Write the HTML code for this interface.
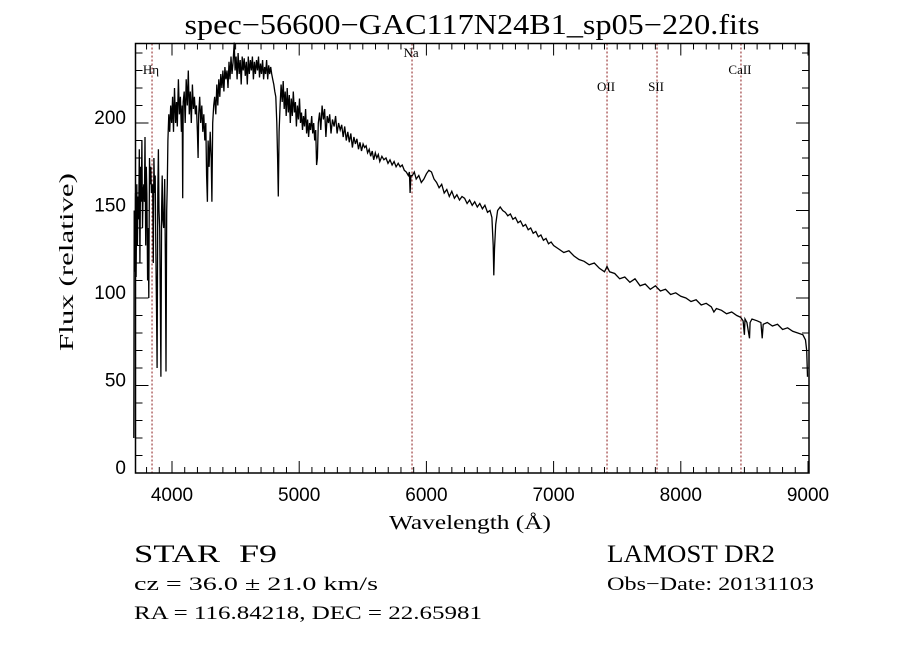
<!DOCTYPE html>
<html><head><meta charset="utf-8"><style>
html,body{margin:0;padding:0;background:#fff;}
svg{display:block;}
text{fill:#000;}
.sans{font-family:"Liberation Sans",sans-serif;}
.serif{font-family:"Liberation Serif",serif;}
</style></head><body>
<svg id="chart" width="900" height="649" viewBox="0 0 900 649" xmlns="http://www.w3.org/2000/svg">
<rect width="900" height="649" fill="#fff"/>
<text class="serif" x="472" y="34" font-size="28" text-anchor="middle" textLength="575" lengthAdjust="spacingAndGlyphs">spec−56600−GAC117N24B1_sp05−220.fits</text>
<g id="plot"></g>
<text class="serif" x="470" y="529" font-size="20" text-anchor="middle" textLength="162" lengthAdjust="spacingAndGlyphs">Wavelength (Å)</text>
<text class="serif" transform="translate(73,262) rotate(-90)" font-size="20" text-anchor="middle" textLength="178" lengthAdjust="spacingAndGlyphs">Flux (relative)</text>
<text class="serif" x="134" y="562" font-size="25" textLength="86" lengthAdjust="spacingAndGlyphs">STAR</text>
<text class="serif" x="239" y="562" font-size="25" textLength="38" lengthAdjust="spacingAndGlyphs">F9</text>
<text class="serif" x="134" y="590" font-size="19" textLength="244" lengthAdjust="spacingAndGlyphs">cz = 36.0 ± 21.0 km/s</text>
<text class="serif" x="134" y="619" font-size="19" textLength="348" lengthAdjust="spacingAndGlyphs">RA = 116.84218, DEC =  22.65981</text>
<text class="serif" x="607" y="562" font-size="25" textLength="168" lengthAdjust="spacingAndGlyphs">LAMOST DR2</text>
<text class="serif" x="607" y="590" font-size="19" textLength="207" lengthAdjust="spacingAndGlyphs">Obs−Date: 20131103</text>
</svg>
<script>
const wavelengths=[3700,3703,3708,3713,3718,3723,3728,3733,3738,3743,3748,3753,3758,3763,3768,3773,3778,3783,3788,3793,3798,3803,3808,3813,3818,3823,3828,3833,3838,3843,3848,3853,3858,3863,3868,3873,3878,3883,3888,3893,3898,3903,3908,3913,3918,3923,3928,3935,3943,3948,3953,3958,3963,3968,3975,3982,3990,3998,4005,4012,4020,4028,4035,4042,4050,4058,4066,4074,4080,4084,4088,4096,4104,4112,4120,4128,4136,4144,4152,4160,4168,4176,4184,4192,4200,4205,4210,4218,4226,4234,4242,4250,4258,4266,4272,4278,4284,4292,4300,4308,4314,4320,4328,4336,4344,4352,4360,4368,4376,4384,4392,4400,4408,4416,4424,4432,4440,4448,4456,4464,4472,4480,4489,4496,4504,4512,4520,4528,4536,4544,4552,4560,4568,4576,4584,4592,4600,4608,4616,4624,4632,4640,4648,4656,4664,4672,4680,4688,4696,4704,4712,4720,4728,4736,4744,4752,4760,4768,4776,4784,4792,4800,4808,4816,4824,4830,4836,4842,4850,4858,4866,4874,4882,4890,4898,4906,4914,4922,4930,4938,4946,4954,4962,4970,4978,4986,4994,5002,5010,5018,5026,5034,5042,5050,5058,5066,5074,5082,5090,5098,5106,5114,5122,5130,5137,5143,5150,5160,5170,5180,5190,5200,5210,5220,5230,5240,5250,5262,5274,5286,5298,5310,5322,5334,5346,5358,5370,5382,5394,5406,5418,5430,5442,5454,5466,5478,5490,5502,5514,5526,5538,5550,5562,5574,5586,5598,5610,5622,5634,5650,5666,5682,5698,5714,5730,5746,5762,5778,5794,5810,5826,5842,5858,5866,5872,5878,
5890,5905,5920,
5940,5960,5980,6000,6020,6040,6060,6080,6100,6120,6140,6160,6180,6200,6220,6240,6260,6280,6300,6320,6340,6360,6380,6400,6420,6440,6460,6480,6500,
6515,6525,6530,6535,6545,6560,6580,
6600,6620,6640,6660,6680,6700,6720,6740,6760,6780,6800,6820,6840,6860,6880,6900,6920,6940,6960,6980,7000,
7040,7080,7120,7160,7200,7240,7280,7320,7360,7400,7420,
7440,7480,7520,7560,7600,7640,7680,7720,7760,7800,7840,7880,7920,7960,8000,8040,8080,8120,8160,8200,8240,
8260,8280,8320,8360,8400,8440,8470,8490,8500,8505,8520,8540,8545,8560,8600,8630,8640,8648,8680,8720,8760,8800,8840,8880,8920,8960,8980,8990,8996];
const fluxes=[20,150,115,160,112,165,130,158,145,185,120,175,155,190,140,160,165,155,192,130,175,160,110,140,100,180,165,175,160,162,165,120,180,160,170,130,95,60,160,185,150,140,100,55,150,170,145,140,168,120,58,150,165,190,205,195,210,200,215,195,220,200,212,198,225,205,215,195,210,157,212,218,200,225,210,230,205,218,200,222,208,215,205,210,195,180,205,215,200,210,195,205,190,200,170,155,190,175,195,180,155,200,210,215,205,222,210,225,215,228,220,230,218,232,225,230,220,235,225,238,228,235,246,230,238,225,240,228,236,222,238,230,237,227,235,222,238,228,236,230,238,225,235,228,236,230,238,226,234,228,236,225,232,228,236,225,233,228,232,228,225,222,218,215,200,180,158,195,210,222,212,224,208,218,204,220,206,216,200,214,204,218,206,212,198,210,202,214,200,206,196,204,198,208,194,202,192,200,196,204,194,200,190,196,176,180,200,206,196,210,202,208,192,204,200,205,194,202,198,204,194,200,196,199,192,198,190,195,189,194,186,192,188,191,185,189,184,188,186,187,183,185,181,184,179,183,180,182,178,181,179,180,177,179,176,178,175,177,175,176,173,172,170,172,160,170,
170,172,168,
170,166,168,171,173,172,168,166,163,165,160,162,158,161,157,159,156,158,157,154,156,153,155,152,154,151,153,149,150,
146,130,113,128,142,150,152,
150,149,147,148,145,146,143,144,141,142,139,140,137,138,135,136,133,134,131,132,130,
128,126,127,124,122,121,119,120,117,115,118,
115,114,111,112,109,111,107,108,105,107,104,105,102,103,101,100,98,99,96,97,95,
92,94,93,91,92,90,89,87,79,88,86,77,86,88,87,86,77,85,86,84,85,82,83,81,80,79,76,70,55];
const xTickValues=[4000,5000,6000,7000,8000,9000];
const yTickValues=[0,50,100,150,200];
const lineWavelengths=[3843,5887,7420,7813,8473];
const lineNames=["Hη","Na","OII","SII","CaII"];
const lineLabelY=[74,57,91,91,74];

const L=135.5,R=809,T=43.5,B=473;
const X=w=>172+(w-4000)*0.1272;
const Y=f=>B-f*1.75;
const NS="http://www.w3.org/2000/svg";
const g=document.getElementById('plot');
function mk(tag,attrs){const e=document.createElementNS(NS,tag);for(const k in attrs)e.setAttribute(k,attrs[k]);g.appendChild(e);return e;}

lineWavelengths.forEach((w,i)=>{
  const ln=mk('line',{x1:X(w),x2:X(w),y1:T,y2:B,stroke:'#8b1a1a','stroke-width':1,'stroke-dasharray':'2,2'});
  
  
  const t=mk('text',{x:X(w)-1,y:lineLabelY[i],'font-size':13,'text-anchor':'middle','class':'serif'});
  t.textContent=lineNames[i];
  
  
});

let d='';
const n=Math.min(wavelengths.length,fluxes.length);
for(let i=0;i<n;i++){d+=(i?'L':'M')+X(wavelengths[i]).toFixed(1)+','+Y(fluxes[i]).toFixed(1);}
const sp=mk('path',{d:d,fill:'none',stroke:'#000','stroke-width':1.3,'stroke-linejoin':'miter'});



const fr=mk('rect',{x:L,y:T,width:R-L,height:B-T,fill:'none',stroke:'#000','stroke-width':1.5});



for(let w=3800;w<=9000;w+=100){
  const x=X(w);if(x<L||x>R+0.5)continue;
  const major=w%1000===0;const len=major?12:6;
  const a=mk('line',{x1:x,x2:x,y1:B,y2:B-len,stroke:'#000','stroke-width':1});
  
  
  const b=mk('line',{x1:x,x2:x,y1:T,y2:T+len,stroke:'#000','stroke-width':1});
  
  
}
xTickValues.forEach(v=>{
  const t=mk('text',{x:X(v),y:501,'font-size':19,'text-anchor':'middle','class':'sans'});
  t.textContent=v;
  
  
});
for(let f=0;f<=240;f+=10){
  const y=Y(f);const major=f%50===0;const len=major?13:7;
  const a=mk('line',{x1:L,x2:L+len,y1:y,y2:y,stroke:'#000','stroke-width':1});
  
  
  const b=mk('line',{x1:R,x2:R-len,y1:y,y2:y,stroke:'#000','stroke-width':1});
  
  
}
yTickValues.forEach(v=>{
  const t=mk('text',{x:126,y:Y(v)+1,'font-size':19,'text-anchor':'end','class':'sans'});
  t.textContent=v;
  
  
});
</script>
</body></html>
